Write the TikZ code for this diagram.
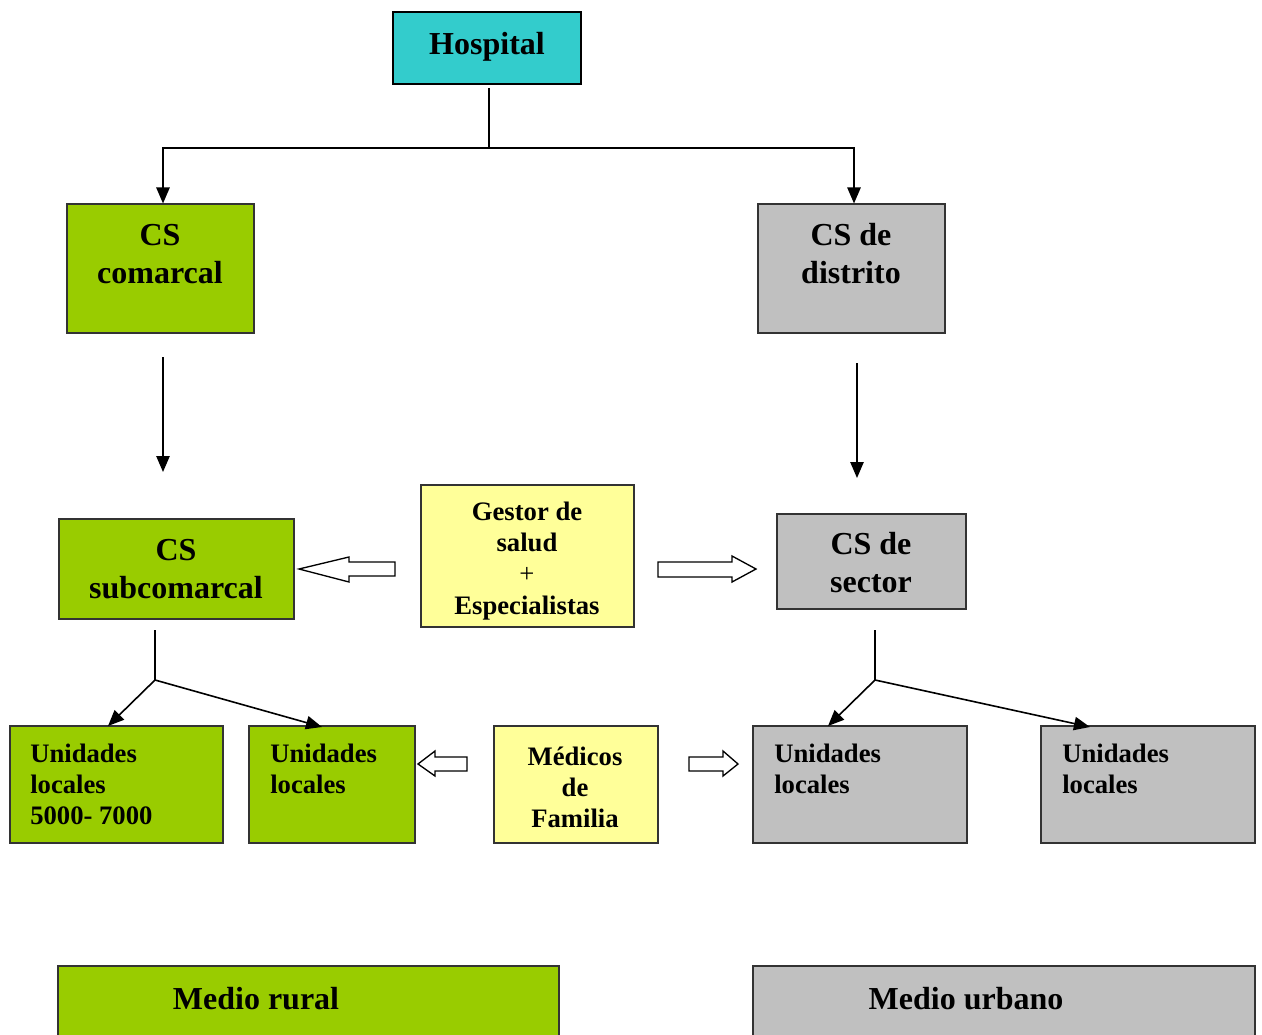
\documentclass[tikz,border=0pt]{standalone}
\usepackage{fontspec}
\setmainfont{Liberation Serif}
\usetikzlibrary{fit,arrows.meta}
\definecolor{hosp}{HTML}{33CCCC}
\definecolor{rural}{HTML}{99CC00}
\definecolor{urban}{HTML}{C0C0C0}
\definecolor{staff}{HTML}{FFFF99}
\tikzset{
  box/.style={draw=black!80, line width=0.8pt, inner sep=0pt, rectangle},
  bigtxt/.style={font=\fontsize{24}{28.5}\selectfont\bfseries, align=center, inner sep=0pt},
  midtxt/.style={font=\fontsize{20}{23.3}\selectfont\bfseries, align=center, inner sep=0pt},
  unitxt/.style={font=\fontsize{20}{23.3}\selectfont\bfseries, align=left, inner sep=0pt, anchor=north west},
  conn/.style={line width=1.2pt},
  arr/.style={conn, -{Triangle[length=12pt,width=10pt]}},
  hollow/.style={draw=black, line width=1pt, fill=white, line join=miter}
}
\begin{document}
\begin{tikzpicture}[x=0.75pt,y=-0.75pt]
\useasboundingbox (0,0) rectangle (1262,1034);
\clip (0,0) rectangle (1262,1034);
% boxes
\node[box, draw=black, line width=1.8pt, fill=hosp, fit={(393,12)(581,84)}] (hospital) {};
\node[bigtxt] (hospitalt) at (487,47) {Hospital};
\node[box, fill=rural, fit={(67,204)(254,333)}] (comarcal) {};
\node[bigtxt] (comarcalt) at (160,254) {CS\\comarcal};
\node[box, fill=urban, fit={(758,204)(945,333)}] (distrito) {};
\node[bigtxt] (distritot) at (851,254) {CS de\\distrito};
\node[box, fill=rural, fit={(59,519)(294,619)}] (subcomarcal) {};
\node[bigtxt] (subcomarcalt) at (176,569) {CS\\subcomarcal};
\node[box, fill=staff, fit={(421,485)(634,627)}] (gestor) {};
\node[midtxt] (gestort) at (527,561) {Gestor de\\salud\\{\mdseries +}\\Especialistas};
\node[box, fill=urban, fit={(777,514)(966,609)}] (sector) {};
\node[bigtxt] (sectort) at (871,563) {CS de\\sector};
% bottom row
\node[box, fill=rural, fit={(10,726)(223,843)}] (ul1) {};
\node[unitxt] (ul1t) at (30,744) {Unidades\\locales\\5000- 7000};
\node[box, fill=rural, fit={(249,726)(415,843)}] (ul2) {};
\node[unitxt] (ul2t) at (270,744) {Unidades\\locales};
\node[box, fill=staff, fit={(494,726)(658,843)}] (medicos) {};
\node[midtxt] (medicost) at (575,787) {Médicos\\de\\Familia};
\node[box, fill=urban, fit={(753,726)(967,843)}] (ur1) {};
\node[unitxt] (ur1t) at (774,744) {Unidades\\locales};
\node[box, fill=urban, fit={(1041,726)(1255,843)}] (ur2) {};
\node[unitxt] (ur2t) at (1062,744) {Unidades\\locales};
% legend
\node[box, fill=rural, fit={(58,966)(559,1060)}] (rural) {};
\node[bigtxt] (ruralt) at (256,999) {Medio rural};
\node[box, fill=urban, fit={(753,966)(1255,1060)}] (urbano) {};
\node[bigtxt] (urbanot) at (966,999) {Medio urbano};
% connectors
\coordinate (h0) at (489,88);
\coordinate (h1) at (489,148);
\coordinate (hl) at (163,148);
\coordinate (hr) at (854,148);
\draw[conn] (h0) -- (h1);
\draw[arr] (h1) -- (hl) -- (comarcal.north -| hl);
\draw[arr] (h1) -- (hr) -- (distrito.north -| hr);
\coordinate (c0) at (163,357);
\coordinate (c1) at (163,472);
\draw[arr] (c0) -- (c1);
\coordinate (d0) at (857,363);
\coordinate (d1) at (857,478);
\draw[arr] (d0) -- (d1);
\coordinate (s0) at (155,630);
\coordinate (s1) at (155,680);
\coordinate (s2) at (108,726);
\coordinate (s3) at (322,727);
\draw[conn] (s0) -- (s1);
\draw[arr] (s1) -- (s2);
\draw[arr] (s1) -- (s3);
\coordinate (t0) at (875,630);
\coordinate (t1) at (875,680);
\coordinate (t2) at (828,726);
\coordinate (t3) at (1090,727);
\draw[conn] (t0) -- (t1);
\draw[arr] (t1) -- (t2);
\draw[arr] (t1) -- (t3);
% hollow block arrows
\draw[hollow] (395,562) -- (349,562) -- (349,557) -- (299,569) -- (349,582) -- (349,576) -- (395,576) -- cycle;
\draw[hollow] (658,562) -- (732,562) -- (732,556) -- (756,569) -- (732,582) -- (732,577) -- (658,577) -- cycle;
\draw[hollow] (467,757) -- (435,757) -- (435,751) -- (418,764) -- (435,776) -- (435,771) -- (467,771) -- cycle;
\draw[hollow] (689,757) -- (723,757) -- (723,751) -- (738,764) -- (723,776) -- (723,771) -- (689,771) -- cycle;
\end{tikzpicture}
\end{document}
